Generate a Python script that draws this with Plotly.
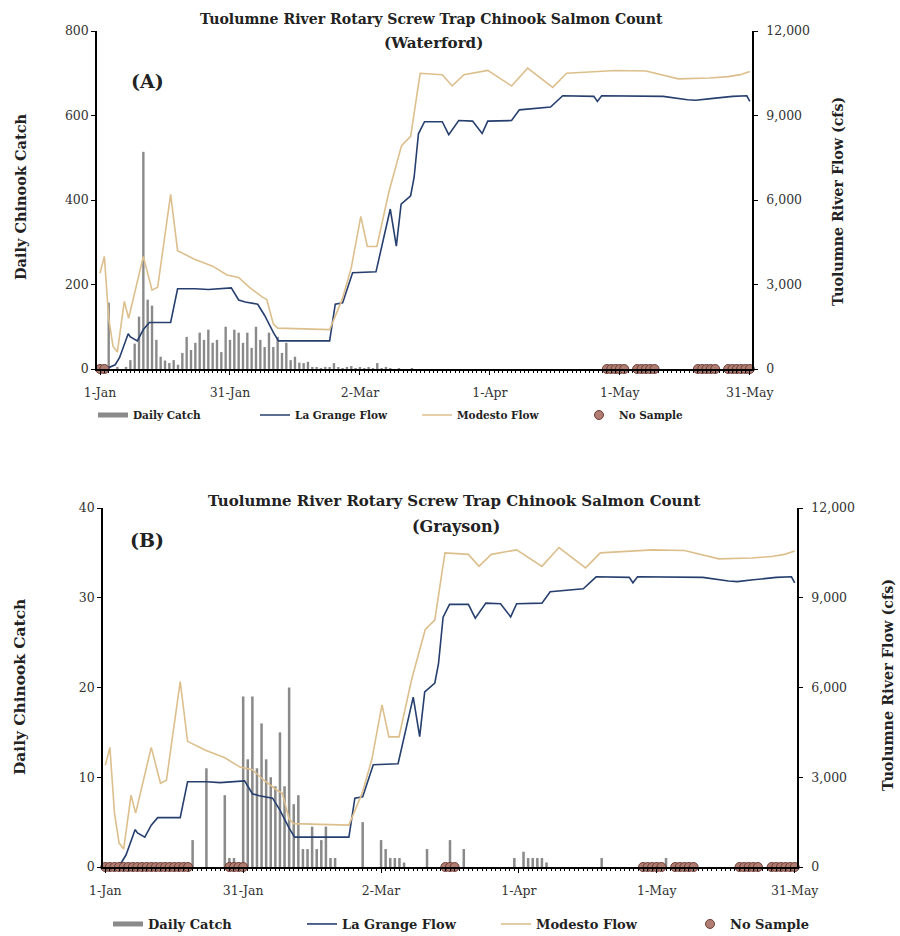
import plotly.graph_objects as go

# ---------------- data ----------------
TICK_DAYS = [0, 30, 60, 90, 120, 150]
TICK_LABELS = ["1-Jan", "31-Jan", "2-Mar", "1-Apr", "1-May", "31-May"]
DAYS = list(range(151))  # day 0 = 1-Jan ... day 150 = 31-May

CATCH_A = [3, 2, 157, 0, 5, 0, 5, 21, 60, 124, 514, 164, 150, 69, 29, 20, 14, 21, 10, 38,
           76, 45, 62, 86, 69, 93, 62, 69, 40, 100, 69, 93, 86, 62, 86, 50, 100, 69, 52, 86,
           52, 76, 38, 62, 21, 29, 15, 14, 17, 5, 3, 2, 5, 3, 14, 3, 2, 5, 7, 2,
           3, 2, 3, 2, 14, 2, 5, 1, 0, 1, 0, 0, 1, 0, 0, 0, 0, 0, 0, 0,
           0, 0, 0, 0, 0, 0, 0, 0, 0, 0, 0, 0, 0, 0, 0, 0, 0, 0, 0, 0,
           0, 0, 0, 0, 0, 0, 0, 0, 0, 0, 0, 0, 0, 0, 0, 0, 0, 0, 0, 0,
           0, 0, 0, 0, 0, 0, 0, 0, 0, 0, 0, 0, 0, 0, 0, 0, 0, 0, 0, 0,
           0, 0, 0, 0, 0, 0, 0, 0, 0, 0, 0]

CATCH_B = [0, 0, 0, 0, 0, 0, 0, 0, 0, 0, 0, 0, 0, 0, 0, 0, 0, 0, 0, 3,
           0, 0, 11, 0, 0, 0, 8, 1, 1, 0.5, 19, 12, 19, 11, 16, 12, 10, 9, 15, 9,
           20, 7, 8, 2, 2, 4.5, 2, 3, 4.5, 1, 1, 0, 0, 0, 0, 0, 5, 0, 0, 0,
           3, 2, 1, 1, 1, 0.5, 0, 0, 0, 0, 2, 0, 0, 0, 0, 3, 0, 0, 2, 0,
           0, 0, 0, 0, 0, 0, 0, 0, 0, 1, 0, 1.7, 1, 1, 1, 1, 0.5, 0, 0, 0,
           0, 0, 0, 0, 0, 0, 0, 0, 1, 0, 0, 0, 0, 0, 0, 0, 0, 0, 0, 0,
           0, 0, 1, 0, 0, 0, 0, 0, 0, 0, 0, 0, 0, 0, 0, 0, 0, 0, 0, 0,
           0, 0, 0, 0, 0, 0, 0, 0, 0, 0, 0]

LAGRANGE_DAY = [0, 2, 3.5, 4.5, 6.5, 7, 8.6, 10, 11.4, 16.3, 17.9, 22, 25, 30.3, 32, 33.5,
                36.4, 38, 40, 41.2, 53, 54.3, 56, 58.3, 63.7, 67, 68.4, 69.5, 71.7, 72.5,
                73.5, 74.9, 79, 80.5, 82.8, 86, 88.2, 89.5, 95, 96.8, 104, 106.8, 114,
                114.8, 115.8, 126, 130, 135.6, 137.5, 141, 146, 149.3, 150]
LAGRANGE_CFS = [50, 50, 150, 400, 1250, 1140, 1000, 1400, 1650, 1650, 2850, 2850, 2820, 2880,
                2450, 2380, 2300, 1900, 1300, 1000, 1000, 2300, 2350, 3420, 3450, 5680, 4360,
                5850, 6150, 6800, 8350, 8780, 8780, 8320, 8820, 8800, 8360, 8800, 8820, 9200,
                9300, 9700, 9680, 9500, 9700, 9700, 9680, 9560, 9540, 9600, 9680, 9700, 9500]

MODESTO_DAY = [0, 1, 2, 3, 4, 5, 5.6, 6.6, 8, 10, 12, 13.3, 16.3, 17.9, 21.8, 26, 29.3, 32,
               34.5, 37.5, 38.5, 40, 41, 53, 55.9, 58, 60.2, 61.7, 63.9, 66.7, 69.6, 71.7,
               73.9, 79, 81.3, 84, 89.5, 95, 98.7, 104.5, 107.7, 119, 126, 133.5, 140.7,
               145, 147.8, 150]
MODESTO_CFS = [3400, 4000, 1800, 800, 600, 1800, 2400, 1800, 2700, 4000, 2800, 2900, 6200,
               4200, 3900, 3650, 3340, 3250, 2900, 2550, 2470, 1600, 1450, 1400, 2470, 3600,
               5420, 4350, 4350, 6300, 7930, 8260, 10500, 10450, 10050, 10450, 10600, 10050,
               10680, 10000, 10500, 10600, 10580, 10300, 10330, 10380, 10450, 10560]

NO_SAMPLE_A = [0, 1, 117, 118, 119, 120, 121, 124, 125, 126, 127, 128,
               138, 139, 140, 141, 142, 145, 146, 147, 148, 149, 150]
NO_SAMPLE_B = list(range(0, 19)) + [27, 28, 29, 30, 74, 75, 76,
               117, 118, 119, 120, 121, 124, 125, 126, 127, 128,
               138, 139, 140, 141, 142, 145, 146, 147, 148, 149, 150]

TITLE = "Tuolumne River Rotary Screw Trap Chinook Salmon Count"
SITES = ["(Waterford)", "(Grayson)"]
PANELS = ["(A)", "(B)"]

# ---------------- styles ----------------
W, H = 900, 936
SERIF = "DejaVu Serif, Liberation Serif, serif"
BAR_C = "#8a8a8a"
LG_C = "#263f6e"
MO_C = "#dcbf8c"
NS_C = "#b07d72"
NS_EDGE = "#6e3d36"
TXT = "#222"

fig = go.Figure()


def px_x(v):
    return v / W


def px_y(v):
    return 1 - v / H


panels = [
    dict(catch=CATCH_A, ns=NO_SAMPLE_A, xa="x", ya="y", ya2="y2", legend="legend"),
    dict(catch=CATCH_B, ns=NO_SAMPLE_B, xa="x2", ya="y3", ya2="y4", legend="legend2"),
]

for p in panels:
    fig.add_trace(go.Bar(x=DAYS, y=p["catch"], xaxis=p["xa"], yaxis=p["ya"],
                         marker=dict(color=BAR_C, line=dict(width=0)),
                         showlegend=False, hoverinfo="skip"))
    # legend proxy for bars (thick gray line)
    fig.add_trace(go.Scatter(x=[None], y=[None], xaxis=p["xa"], yaxis=p["ya"], mode="lines",
                             line=dict(color=BAR_C, width=5), name="<b>Daily Catch</b>",
                             legend=p["legend"]))
    fig.add_trace(go.Scatter(x=LAGRANGE_DAY, y=LAGRANGE_CFS, xaxis=p["xa"], yaxis=p["ya2"],
                             mode="lines", line=dict(color=LG_C, width=1.6),
                             name="<b>La Grange Flow</b>", legend=p["legend"]))
    fig.add_trace(go.Scatter(x=MODESTO_DAY, y=MODESTO_CFS, xaxis=p["xa"], yaxis=p["ya2"],
                             mode="lines", line=dict(color=MO_C, width=1.6),
                             name="<b>Modesto Flow</b>", legend=p["legend"]))
    fig.add_trace(go.Scatter(x=p["ns"], y=[0] * len(p["ns"]), xaxis=p["xa"], yaxis=p["ya2"],
                             mode="markers", cliponaxis=False,
                             marker=dict(color=NS_C, size=9, line=dict(color=NS_EDGE, width=1)),
                             name="<b>No Sample</b>", legend=p["legend"]))

tickfont = dict(family=SERIF, size=12.5, color="#333")
common_x = dict(tickvals=TICK_DAYS, ticktext=TICK_LABELS, showline=True, linecolor="black",
                linewidth=1.5, ticks="outside", ticklen=4, tickcolor="black",
                showgrid=False, zeroline=False, tickfont=tickfont, automargin=False,
                ticklabelstandoff=7,
                minor=dict(dtick=1, tick0=0, ticks="outside", ticklen=2, tickcolor="black"))
common_y = dict(showline=True, linecolor="black", linewidth=1.5, ticks="outside", ticklen=4,
                tickcolor="black", showgrid=False, zeroline=False, tickfont=tickfont,
                automargin=False)

fig.update_layout(
    width=W, height=H, margin=dict(l=0, r=0, t=0, b=0, autoexpand=False),
    plot_bgcolor="white", paper_bgcolor="white", barmode="overlay", bargap=0.45,
    xaxis=dict(domain=[px_x(97), px_x(752)], anchor="y", range=[-0.7, 150.5], **common_x),
    yaxis=dict(domain=[px_y(369), px_y(31)], anchor="x", range=[0, 800], dtick=200, **common_y),
    yaxis2=dict(overlaying="y", side="right", anchor="x", range=[0, 12000], dtick=3000,
                tickformat=",", ticklabelstandoff=6, **common_y),
    xaxis2=dict(domain=[px_x(103), px_x(797)], anchor="y3", range=[-0.5, 150.5], **common_x),
    yaxis3=dict(domain=[px_y(867), px_y(508)], anchor="x2", range=[0, 40], dtick=10, **common_y),
    yaxis4=dict(overlaying="y3", side="right", anchor="x2", range=[0, 12000], dtick=3000,
                tickformat=",", ticklabelstandoff=6, **common_y),
    legend=dict(orientation="h", x=px_x(93), y=px_y(415), xanchor="left", yanchor="middle",
                entrywidth=117, font=dict(family=SERIF, size=10.5, color=TXT),
                bgcolor="rgba(0,0,0,0)", itemwidth=30, traceorder="normal"),
    legend2=dict(orientation="h", x=px_x(108), y=px_y(924), xanchor="left", yanchor="middle",
                 entrywidth=149, font=dict(family=SERIF, size=13, color=TXT),
                 bgcolor="rgba(0,0,0,0)", itemwidth=30, traceorder="normal"),
)

ann = []
title_pos = [(431, 19, 43, 14.1), (454, 501, 526, 15)]
for (cx, ty, sy, fs), site in zip(title_pos, SITES):
    ann.append(dict(x=px_x(cx), y=px_y(ty), text="<b>" + TITLE + "</b>", showarrow=False,
                    xref="paper", yref="paper", xanchor="center", yanchor="middle",
                    font=dict(family=SERIF, size=fs, color=TXT)))
    ann.append(dict(x=px_x(cx + 2), y=px_y(sy), text="<b>" + site + "</b>", showarrow=False,
                    xref="paper", yref="paper", xanchor="center", yanchor="middle",
                    font=dict(family=SERIF, size=fs + 1, color=TXT)))
for (lx, ly), lab in zip([(147, 81), (147, 540)], PANELS):
    ann.append(dict(x=px_x(lx), y=px_y(ly), text="<b>" + lab + "</b>", showarrow=False,
                    xref="paper", yref="paper", xanchor="center", yanchor="middle",
                    font=dict(family=SERIF, size=19, color=TXT)))
for (lx, ly, fs) in [(20, 197, 14.5), (20, 687, 15.4)]:
    ann.append(dict(x=px_x(lx), y=px_y(ly), text="<b>Daily Chinook Catch</b>", showarrow=False,
                    textangle=-90, xref="paper", yref="paper", xanchor="center", yanchor="middle",
                    font=dict(family=SERIF, size=fs, color=TXT)))
for (rx, ry, fs) in [(838, 202, 14.2), (887, 685, 14.4)]:
    ann.append(dict(x=px_x(rx), y=px_y(ry), text="<b>Tuolumne River Flow (cfs)</b>",
                    showarrow=False, textangle=-90, xref="paper", yref="paper",
                    xanchor="center", yanchor="middle",
                    font=dict(family=SERIF, size=fs, color=TXT)))
fig.update_layout(annotations=ann)

fig.write_html("out.html", config={"displayModeBar": False},
               post_script="document.body.style.margin='0';document.body.style.overflow='hidden';")
